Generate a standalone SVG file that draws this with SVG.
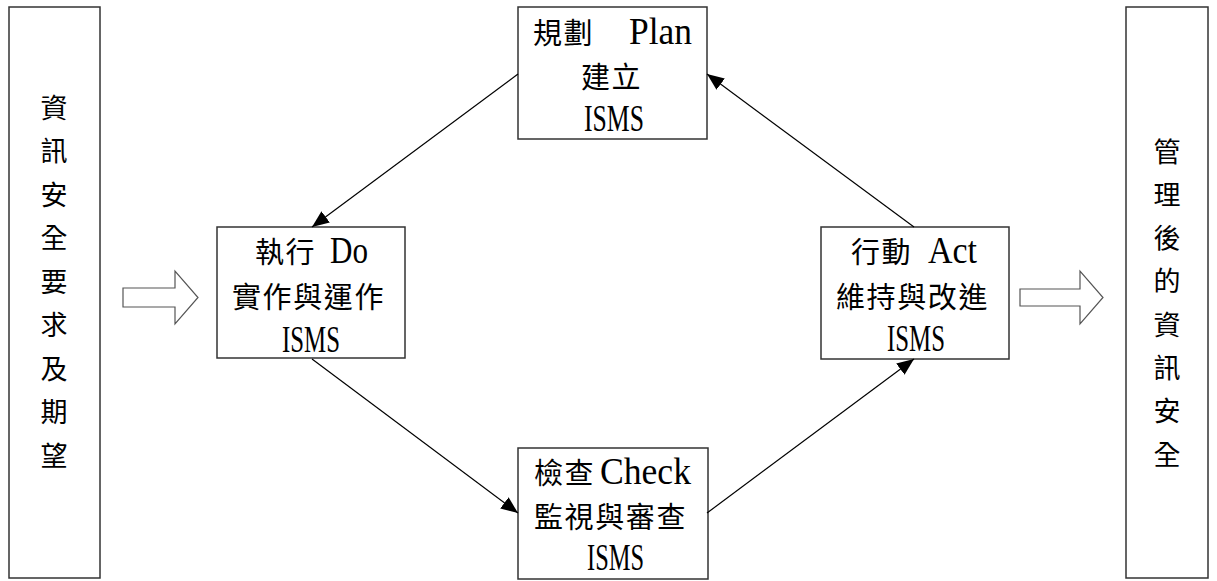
<svg xmlns="http://www.w3.org/2000/svg" width="1217" height="581" viewBox="0 0 1217 581">
<style>
.box{fill:#fff;stroke:#333;stroke-width:1.5}
.hollow{fill:#fff;stroke:#555;stroke-width:1.2}
.cj{font-family:"Noto Sans CJK TC","Noto Sans CJK SC",sans-serif;font-size:29px;letter-spacing:1.6px;fill:#000;dominant-baseline:central}
.la{font-family:"Liberation Serif",serif;font-size:37px;fill:#000;dominant-baseline:central}
.vt{font-family:"Noto Sans CJK TC","Noto Sans CJK SC",sans-serif;font-size:27px;fill:#000;text-anchor:middle;dominant-baseline:central}
.conn{stroke:#000;stroke-width:1.2;fill:none;marker-end:url(#ah)}
</style>
<defs>
<marker id="ah" markerUnits="userSpaceOnUse" markerWidth="18" markerHeight="14" refX="17" refY="7" orient="auto">
<path d="M0,0 L17,7 L0,14 z" fill="#000"/>
</marker>
</defs>
<rect width="1217" height="581" fill="#fff"/>

<g id="input">
<rect class="box" x="9" y="7" width="91" height="571"/>
<text class="vt" x="54" y="106">資</text>
<text class="vt" x="54" y="149.5">訊</text>
<text class="vt" x="54" y="193">安</text>
<text class="vt" x="54" y="236.5">全</text>
<text class="vt" x="54" y="280">要</text>
<text class="vt" x="54" y="323.5">求</text>
<text class="vt" x="54" y="367">及</text>
<text class="vt" x="54" y="410.5">期</text>
<text class="vt" x="54" y="454">望</text>
</g>

<g id="output">
<rect class="box" x="1126" y="7" width="82" height="571"/>
<text class="vt" x="1167" y="150">管</text>
<text class="vt" x="1167" y="193.3">理</text>
<text class="vt" x="1167" y="236.6">後</text>
<text class="vt" x="1167" y="279.9">的</text>
<text class="vt" x="1167" y="323.2">資</text>
<text class="vt" x="1167" y="366.5">訊</text>
<text class="vt" x="1167" y="409.8">安</text>
<text class="vt" x="1167" y="453">全</text>
</g>

<g id="arrow-in">
<polygon class="hollow" points="123,288 175,288 175,271 198,297.5 175,324 175,307 123,307"/>
</g>
<g id="arrow-out">
<polygon class="hollow" points="1020,289 1080,289 1080,271 1103,297.5 1080,324 1080,306 1020,306"/>
</g>

<g id="plan">
<rect class="box" x="518" y="7" width="189" height="132"/>
<text class="cj" x="533" y="31">規劃</text>
<text class="la" x="629" y="31" textLength="63" lengthAdjust="spacingAndGlyphs">Plan</text>
<text class="cj" x="581" y="75">建立</text>
<text class="la" x="584" y="118" textLength="60" lengthAdjust="spacingAndGlyphs">ISMS</text>
</g>

<g id="do">
<rect class="box" x="217" y="227" width="188" height="131"/>
<text class="cj" x="255" y="250">執行</text>
<text class="la" x="330" y="250" textLength="38" lengthAdjust="spacingAndGlyphs">Do</text>
<text class="cj" x="232" y="295">實作與運作</text>
<text class="la" x="282" y="339" textLength="58" lengthAdjust="spacingAndGlyphs">ISMS</text>
</g>

<g id="check">
<rect class="box" x="518" y="448" width="190" height="131"/>
<text class="cj" x="534" y="471">檢查</text>
<text class="la" x="600" y="471" textLength="91" lengthAdjust="spacingAndGlyphs">Check</text>
<text class="cj" x="534" y="515">監視與審查</text>
<text class="la" x="587" y="557" textLength="57" lengthAdjust="spacingAndGlyphs">ISMS</text>
</g>

<g id="act">
<rect class="box" x="821" y="227" width="188" height="132"/>
<text class="cj" x="851" y="250">行動</text>
<text class="la" x="928" y="250" textLength="49" lengthAdjust="spacingAndGlyphs">Act</text>
<text class="cj" x="836" y="295">維持與改進</text>
<text class="la" x="887" y="338" textLength="58" lengthAdjust="spacingAndGlyphs">ISMS</text>
</g>

<g id="connectors">
<line class="conn" x1="518" y1="74" x2="312" y2="227"/>
<line class="conn" x1="312" y1="359" x2="518" y2="513"/>
<line class="conn" x1="707" y1="513" x2="914" y2="359"/>
<line class="conn" x1="914" y1="227" x2="707" y2="74"/>
</g>
</svg>
